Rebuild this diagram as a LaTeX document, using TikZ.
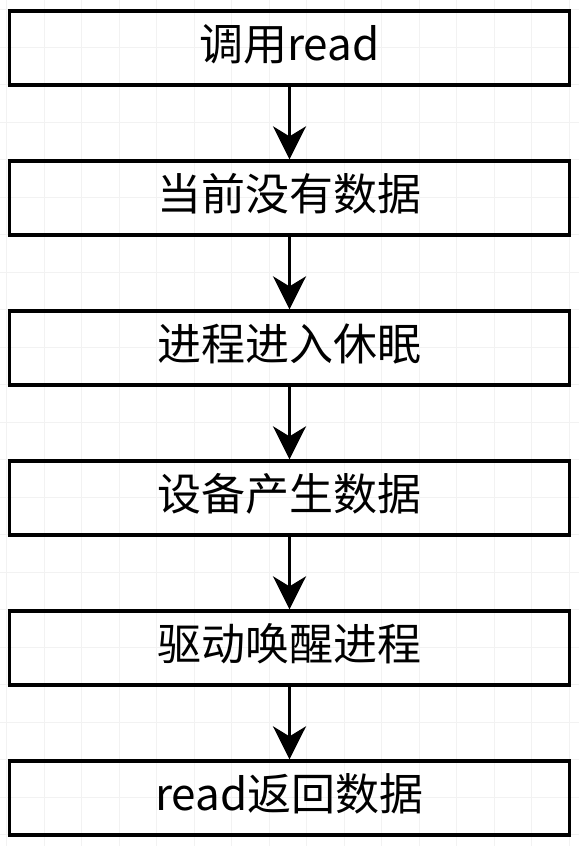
\documentclass[tikz,border=0pt]{standalone}
\usepackage{fontspec}
\newfontfamily\cjk{Noto Sans CJK SC}
\usetikzlibrary{arrows.meta, positioning}

\begin{document}
\begin{tikzpicture}[x=1pt, y=-1pt, node distance=72.7pt,
  box/.style={draw, line width=3.3pt, minimum width=560pt, minimum height=74pt, inner sep=0pt, text height=38pt, text depth=13pt, font=\cjk\fontsize{44}{50}\selectfont},
  flow/.style={-{Stealth[length=33pt, width=33pt, inset=10pt]}, line width=3pt},
  gridline/.style={gray!10, line width=1pt}]
% Background and grid
\useasboundingbox (0,0) rectangle (579,846);
\fill[white] (0,0) rectangle (579,846);
\foreach \gx in {0,...,15} {
    \draw[gridline] (6.5+37.5*\gx,0) -- ++(0,846);
}
\foreach \gy in {0,...,22} {
    \draw[gridline] (0,9.5+37.5*\gy) -- ++(579,0);
}

% Steps
\node[box] (call) at (289.5,48) {调用read};
\node[box, below=of call] (nodata) {当前没有数据};
\node[box, below=of nodata] (sleep) {进程进入休眠};
\node[box, below=of sleep] (devdata) {设备产生数据};
\node[box, below=of devdata] (wake) {驱动唤醒进程};
\node[box, below=of wake] (ret) {read返回数据};

% Arrows
\draw[flow] (call) -- (nodata);
\draw[flow] (nodata) -- (sleep);
\draw[flow] (sleep) -- (devdata);
\draw[flow] (devdata) -- (wake);
\draw[flow] (wake) -- (ret);
\end{tikzpicture}
\end{document}
